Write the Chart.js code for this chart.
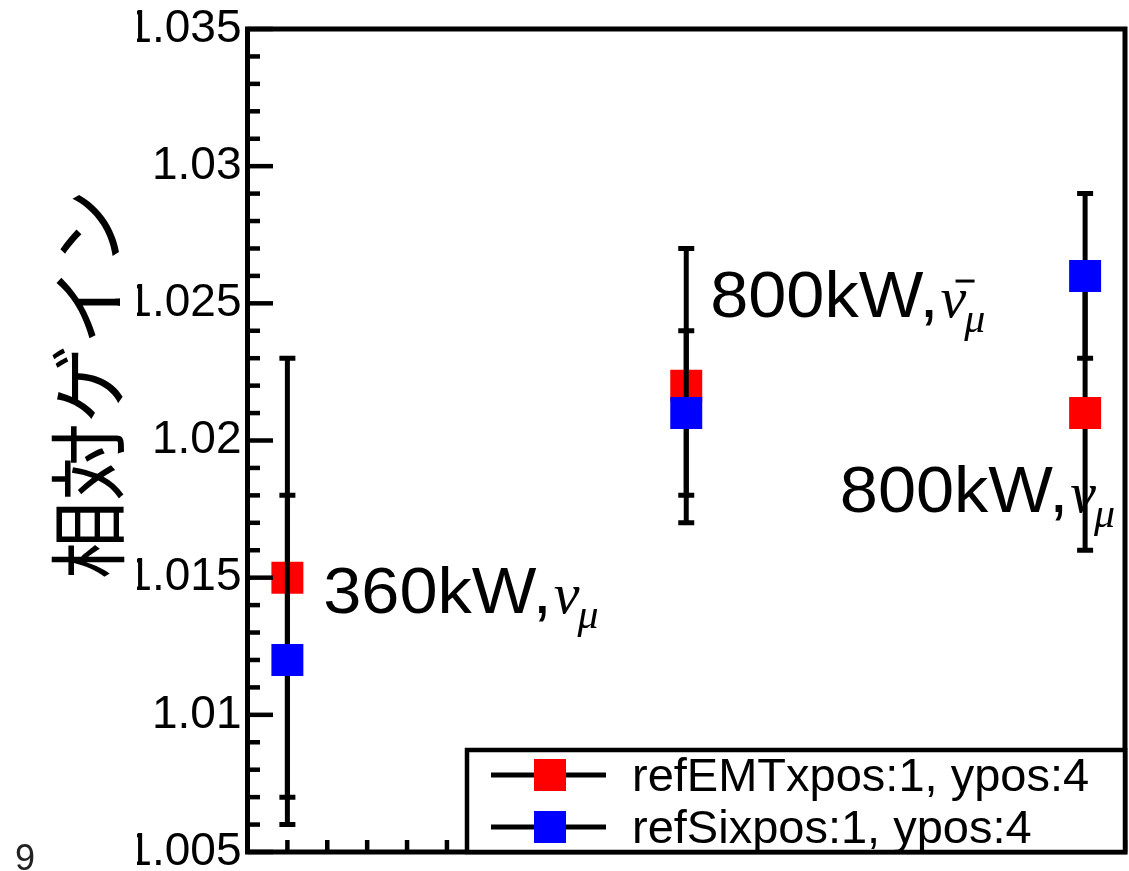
<!DOCTYPE html>
<html>
<head>
<meta charset="utf-8">
<script src="https://cdn.jsdelivr.net/npm/chart.js@4"></script>
<style>
  html, body { margin: 0; padding: 0; background: #ffffff; }
  canvas { display: block; }
</style>
</head>
<body>
<canvas id="c" width="1129" height="871"></canvas>
<script>
// ---------------- data ----------------
const xPositions = [0, 1, 2];
const seriesLabels = ['refEMTxpos:1, ypos:4', 'refSixpos:1, ypos:4'];
const emtValues = [1.015, 1.022, 1.021];
const emtErrors = [0.008, 0.005, 0.005];
const siValues  = [1.012, 1.021, 1.026];
const siErrors  = [0.006, 0.003, 0.003];
const yTitle = '相対ゲイン';
const annText = ['360kW,', '800kW,', '800kW,'];
const annX = [0.09, 1.06, 1.385];
const annY = [1.0137, 1.0245, 1.0174];
const annBar = [false, true, false];
const yMin = 1.005, yMax = 1.035, yStep = 0.001, yMajorEvery = 5;
const xMin = -0.1, xMax = 2.1, xStep = 0.1;
const strayText = '9';

function isMajor(v) { return Math.round((v - yMin) / yStep) % yMajorEvery === 0; }
function fmt(v) { return String(parseFloat(v.toFixed(3))); }

// ---------------- plugins ----------------
const clipPlugin = {
  id: 'clipLabels',
  beforeDraw(chart) {
    const c = chart.ctx;
    c.save();
    c.beginPath();
    c.rect(137, 0, chart.width, chart.height);
    c.clip();
    chart.$clipped = true;
  },
  beforeDatasetsDraw(chart) {
    if (chart.$clipped) { chart.ctx.restore(); chart.$clipped = false; }
  }
};

const errorBarPlugin = {
  id: 'errorBars',
  beforeDatasetDraw(chart, args) {
    const ds = chart.data.datasets[args.index];
    const xs = chart.scales.x, ys = chart.scales.y;
    const c = chart.ctx;
    c.save();
    c.strokeStyle = '#000';
    c.lineWidth = 5;
    ds.data.forEach((p, i) => {
      const e = ds.errors[i];
      const px = xs.getPixelForValue(p.x);
      const top = ys.getPixelForValue(p.y + e);
      const bot = ys.getPixelForValue(p.y - e);
      c.beginPath(); c.moveTo(px, top); c.lineTo(px, bot); c.stroke();
      c.beginPath();
      c.moveTo(px - 8, top); c.lineTo(px + 8, top);
      c.moveTo(px - 8, bot); c.lineTo(px + 8, bot);
      c.stroke();
    });
    c.restore();
  }
};

const decorPlugin = {
  id: 'decor',
  afterDraw(chart) {
    const c = chart.ctx;
    const a = chart.chartArea;
    const xs = chart.scales.x, ys = chart.scales.y;
    c.save();
    c.strokeStyle = '#000';
    c.fillStyle = '#000';

    // inward ticks (y)
    c.lineWidth = 4.5;
    ys.ticks.forEach(t => {
      const py = ys.getPixelForValue(t.value);
      const len = isMajor(t.value) ? 25.5 : 12.5;
      c.beginPath(); c.moveTo(a.left, py); c.lineTo(a.left + len, py); c.stroke();
    });
    // inward ticks (x)
    xs.ticks.forEach(t => {
      const px = xs.getPixelForValue(t.value);
      c.beginPath(); c.moveTo(px, a.bottom); c.lineTo(px, a.bottom - 12); c.stroke();
    });

    // frame
    c.lineWidth = 5;
    c.strokeRect(a.left, a.top, a.right - a.left, a.bottom - a.top);

    // annotations
    const stretch = 1.07;
    for (let i = 0; i < annText.length; i++) {
      const px = xs.getPixelForValue(annX[i]);
      const py = ys.getPixelForValue(annY[i]);
      c.textAlign = 'left';
      c.textBaseline = 'alphabetic';
      c.font = '64px "Liberation Sans"';
      c.save();
      c.translate(px, py);
      c.scale(stretch, 1);
      c.fillText(annText[i], 0, 0);
      c.restore();
      const w = c.measureText(annText[i]).width * stretch;
      const nuX = px + w + 2;
      c.font = 'italic 58px "Liberation Serif"';
      c.fillText('ν', nuX, py);
      const nuW = c.measureText('ν').width;
      c.font = 'italic 42px "Liberation Serif"';
      c.fillText('μ', nuX + nuW - 2, py + 15);
      if (annBar[i]) {
        c.lineWidth = 3;
        c.beginPath(); c.moveTo(nuX + 15, py - 36); c.lineTo(nuX + 34, py - 36); c.stroke();
      }
    }

    // legend
    const L = { left: 467, top: 750, right: a.right, bottom: a.bottom };
    c.fillStyle = '#fff';
    c.fillRect(L.left, L.top, L.right - L.left, L.bottom - L.top);
    c.lineWidth = 4.5;
    c.strokeRect(L.left, L.top, L.right - L.left, L.bottom - L.top);
    const rows = [775, 827];
    chart.data.datasets.forEach((ds, i) => {
      const cy = rows[i];
      c.lineWidth = 5;
      c.strokeStyle = '#000';
      c.beginPath(); c.moveTo(491, cy); c.lineTo(606, cy); c.stroke();
      c.fillStyle = ds.backgroundColor;
      c.fillRect(534, cy - 16, 32, 32);
      c.fillStyle = '#000';
      c.font = '47px "Liberation Sans"';
      c.textAlign = 'left';
      c.textBaseline = 'alphabetic';
      c.fillText(ds.label, 632, cy + 16);
    });

    // y-axis title
    c.save();
    c.translate(88.5, 384);
    c.rotate(-Math.PI / 2);
    c.font = '78px "Noto Sans CJK JP"';
    c.textAlign = 'center';
    c.textBaseline = 'middle';
    c.fillStyle = '#000';
    c.fillText(yTitle, 0, 0);
    c.restore();

    // stray label fragment at bottom-left
    c.font = '36px "Liberation Sans"';
    c.fillStyle = '#222';
    c.textAlign = 'left';
    c.textBaseline = 'alphabetic';
    c.fillText(strayText, 15, 870);

    c.restore();
  }
};

function zeroPad(s) {
  s.paddingTop = 0; s.paddingBottom = 0; s.paddingLeft = 0; s.paddingRight = 0;
}

// ---------------- chart ----------------
new Chart(document.getElementById('c'), {
  type: 'scatter',
  data: {
    datasets: [
      {
        label: seriesLabels[0],
        data: xPositions.map((x, i) => ({ x: x, y: emtValues[i] })),
        errors: emtErrors,
        backgroundColor: '#ff0000',
        borderColor: '#ff0000',
        pointStyle: 'rect',
        pointRadius: 22.6,
        pointBorderWidth: 0,
        showLine: false,
        order: 2
      },
      {
        label: seriesLabels[1],
        data: xPositions.map((x, i) => ({ x: x, y: siValues[i] })),
        errors: siErrors,
        backgroundColor: '#0000ff',
        borderColor: '#0000ff',
        pointStyle: 'rect',
        pointRadius: 22.6,
        pointBorderWidth: 0,
        showLine: false,
        order: 1
      }
    ]
  },
  options: {
    responsive: false,
    animation: false,
    events: [],
    layout: { autoPadding: false, padding: { left: 0, right: 4, top: 29, bottom: 0 } },
    plugins: {
      legend: { display: false },
      tooltip: { enabled: false },
      title: { display: false }
    },
    scales: {
      x: {
        type: 'linear',
        min: xMin, max: xMax,
        offset: false,
        grid: { display: false, drawTicks: false },
        border: { display: false },
        ticks: { display: false, stepSize: xStep, autoSkip: false },
        afterFit: s => { s.height = 19; zeroPad(s); }
      },
      y: {
        type: 'linear',
        min: yMin, max: yMax,
        grid: { display: false, drawTicks: false },
        border: { display: false },
        ticks: {
          stepSize: yStep,
          autoSkip: false,
          padding: 6,
          color: '#000',
          font: { family: 'Liberation Sans', size: 46 },
          callback: v => isMajor(v) ? fmt(v) : ''
        },
        afterFit: s => { s.width = 247.5; zeroPad(s); }
      }
    }
  },
  plugins: [clipPlugin, errorBarPlugin, decorPlugin]
});
</script>
</body>
</html>
